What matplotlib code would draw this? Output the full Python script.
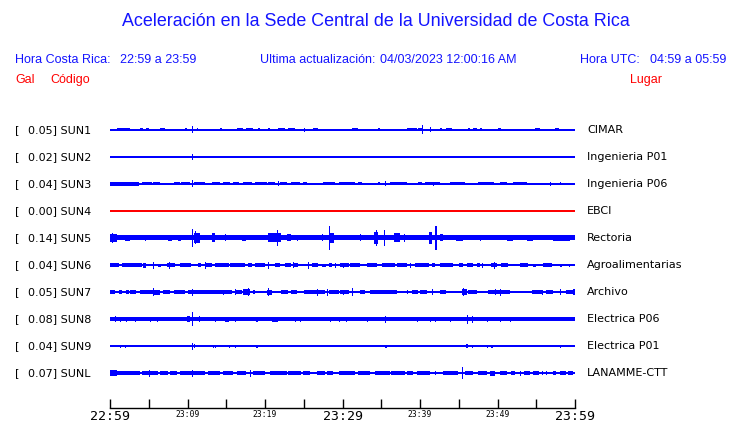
import matplotlib
matplotlib.use("Agg")
import matplotlib.pyplot as plt

# estaciones (de arriba hacia abajo)
codes = ["SUN1", "SUN2", "SUN3", "SUN4", "SUN5", "SUN6", "SUN7", "SUN8", "SUN9", "SUNL"]
peaks = [0.05, 0.02, 0.04, 0.00, 0.14, 0.04, 0.05, 0.08, 0.04, 0.07]
places = ["CIMAR", "Ingenieria P01", "Ingenieria P06", "EBCI", "Rectoria",
          "Agroalimentarias", "Archivo", "Electrica P06", "Electrica P01", "LANAMME-CTT"]
# grosor de la traza en reposo (px)
base_h = [1.8, 1.6, 1.8, 1.3, 5, 1.8, 1.8, 3.5, 1.6, 2]
trace_colors = ["blue", "blue", "blue", "red", "blue", "blue", "blue", "blue", "blue", "blue"]

# rafagas: (minuto inicio, minuto fin, altura total px), minuto 0 = 22:59
SUN1 = [(0.9, 2.6, 3), (3.9, 4.3, 3), (4.7, 5.0, 3), (5.3, 6.0, 2.5), (6.5, 7.1, 3), (7.7, 7.9, 2.5),
        (9.7, 9.9, 3), (10.6, 10.6, 7), (11.2, 11.4, 3), (11.8, 12.3, 2.5), (12.7, 12.7, 2.5),
        (13.1, 13.1, 2.5), (14.2, 14.4, 3), (15.8, 15.8, 2.5), (16.4, 17.2, 3), (17.6, 18.5, 3),
        (19.1, 19.3, 3), (19.8, 19.8, 2.5), (20.4, 20.6, 3), (21.7, 22.6, 3), (23.0, 23.9, 3),
        (24.3, 24.5, 2.5), (25.0, 25.0, 4.5), (26.2, 26.9, 3), (27.5, 27.5, 2.5), (28.4, 28.4, 2.5),
        (29.0, 29.0, 2.5), (29.7, 30.1, 2.5), (31.2, 32.0, 3), (32.9, 32.9, 2.5), (33.6, 34.0, 2.5),
        (34.6, 34.8, 3), (36.0, 36.0, 2.5), (37.4, 37.6, 2.5), (38.3, 39.6, 3), (39.8, 40.4, 3),
        (40.2, 40.2, 9), (41.3, 41.3, 5), (42.6, 42.8, 3), (43.4, 44.1, 3), (45.0, 45.2, 2.5),
        (46.2, 46.5, 3), (46.9, 47.3, 3), (47.7, 48.0, 3), (49.3, 49.3, 2.5), (50.1, 50.5, 3),
        (51.4, 51.4, 2.5), (52.0, 52.0, 2.5), (52.9, 52.9, 2.5), (54.2, 54.2, 2.5), (54.8, 55.5, 3),
        (55.9, 55.9, 2.5), (56.6, 56.6, 2.5), (57.4, 57.9, 3), (58.1, 58.1, 2.5)]
SUN2 = [(10.6, 10.6, 6), (15.3, 15.3, 2.5), (16.1, 16.1, 2.5)]
SUN3 = [(0.0, 3.7, 3.5), (4.1, 5.4, 3), (5.6, 6.5, 3), (7.5, 8.0, 2.5), (8.2, 9.0, 3), (9.2, 10.3, 3),
        (10.6, 10.6, 7), (10.8, 12.3, 3), (13.1, 14.2, 3), (14.6, 15.5, 3), (15.9, 16.6, 3),
        (17.2, 18.3, 3), (18.7, 20.2, 3), (20.4, 21.3, 3), (21.7, 21.7, 5), (21.9, 22.8, 3),
        (23.4, 24.5, 3), (24.9, 25.4, 3), (26.2, 26.9, 2.5), (27.5, 29.0, 3), (29.5, 30.3, 3),
        (30.3, 31.6, 3), (32.0, 32.5, 3), (33.3, 33.8, 2.5), (34.6, 34.8, 3), (35.5, 35.5, 5),
        (36.1, 38.3, 3), (39.8, 40.2, 3), (40.6, 42.6, 3), (41.7, 41.7, 4), (43.9, 45.8, 3),
        (46.2, 46.7, 2.5), (47.5, 49.5, 3), (50.3, 51.2, 3), (52.0, 53.8, 3), (54.6, 55.5, 2.5),
        (56.8, 56.8, 4), (58.1, 58.1, 3)]
SUN4 = []
SUN5 = [(0.0, 0.9, 8), (0.3, 0.3, 10), (1.9, 2.6, 6), (4.5, 4.6, 6), (7.5, 8.0, 6), (8.8, 9.2, 6),
        (10.6, 10.6, 18), (10.8, 11.6, 10), (11.0, 11.0, 13), (13.1, 13.5, 9), (14.8, 14.9, 7),
        (17.0, 17.5, 6), (20.4, 22.1, 9), (21.5, 21.5, 16), (22.8, 23.4, 7), (24.1, 24.2, 6),
        (27.3, 27.4, 7), (28.2, 28.2, 24), (28.4, 28.9, 10), (32.3, 32.4, 7), (34.0, 34.6, 12),
        (34.3, 34.3, 16), (35.3, 35.5, 16), (36.6, 37.4, 9), (37.9, 38.0, 8), (41.1, 41.5, 12),
        (41.9, 42.2, 24), (42.6, 43.0, 7), (44.7, 45.5, 6), (47.7, 47.8, 6), (51.2, 52.0, 6),
        (53.8, 54.6, 6), (57.2, 59.3, 6)]
SUN6 = [(0.0, 1.1, 4), (1.5, 4.1, 4), (4.3, 4.7, 5), (5.6, 5.6, 7), (6.2, 6.6, 3), (7.3, 8.4, 4),
        (7.6, 7.6, 7), (9.0, 10.5, 4), (11.4, 11.8, 4), (12.2, 12.2, 7), (12.3, 13.1, 4),
        (13.6, 15.3, 4), (15.5, 17.4, 4), (17.8, 18.3, 4), (18.7, 20.0, 4), (20.4, 20.4, 7),
        (21.3, 21.9, 4), (22.6, 23.4, 4), (23.6, 23.6, 6), (23.8, 24.3, 4), (25.5, 25.5, 7),
        (26.0, 26.9, 4), (27.3, 27.9, 3), (28.2, 28.6, 4), (29.0, 29.0, 5), (30.0, 30.0, 5),
        (29.7, 30.8, 4), (31.0, 32.3, 4), (33.1, 34.4, 3.5), (35.1, 36.8, 4), (37.0, 38.3, 4),
        (38.7, 38.7, 5), (39.4, 41.1, 4), (41.5, 41.9, 4), (42.6, 44.3, 4), (45.0, 45.6, 4),
        (46.0, 46.9, 4), (47.3, 47.7, 4), (48.0, 48.0, 5), (49.5, 49.5, 7), (49.2, 49.9, 4),
        (50.5, 51.4, 4), (52.9, 54.0, 4), (54.6, 55.0, 3), (55.9, 57.0, 4), (58.1, 58.3, 3),
        (59.2, 59.2, 3)]
SUN7 = [(0.0, 0.65, 4), (1.1, 1.5, 4), (2.0, 2.4, 4), (2.6, 3.4, 4), (3.9, 5.6, 4), (5.6, 5.6, 8),
        (5.7, 6.4, 5), (6.9, 7.7, 4), (8.2, 9.7, 4), (10.1, 12.3, 4), (10.6, 10.6, 7),
        (12.3, 15.7, 4), (14.6, 14.6, 5), (16.1, 16.1, 6), (16.3, 17.0, 4), (17.2, 18.1, 6),
        (17.8, 17.8, 8), (18.5, 18.7, 4), (20.2, 20.9, 5), (20.4, 20.4, 8), (22.1, 23.0, 4),
        (23.4, 24.1, 4), (25.0, 27.7, 4), (26.7, 26.7, 7), (28.0, 28.0, 7), (28.2, 29.5, 4),
        (30.1, 30.1, 5), (29.7, 30.8, 4), (31.2, 31.2, 8), (32.3, 32.9, 4), (33.5, 37.0, 4),
        (38.3, 38.3, 4), (39.0, 39.8, 4), (40.0, 40.9, 4), (41.5, 41.5, 6), (42.6, 43.4, 4),
        (45.4, 46.0, 6), (45.6, 45.6, 8), (46.2, 47.3, 4), (48.8, 51.6, 4), (49.7, 49.7, 6),
        (50.3, 50.3, 7), (54.4, 55.9, 4), (55.7, 55.7, 5), (56.3, 57.2, 4), (58.1, 58.1, 6),
        (58.9, 60.0, 4), (59.8, 59.8, 6)]
SUN8 = [(0.0, 60.0, 3.5), (0.6, 0.6, 6), (1.3, 1.3, 5), (2.1, 2.1, 5), (3.2, 3.2, 5), (5.2, 5.2, 5),
        (6.0, 6.0, 5), (9.9, 10.3, 6), (10.6, 10.6, 14), (11.5, 11.5, 6), (13.6, 13.6, 5),
        (14.8, 15.3, 5), (16.1, 16.1, 5), (18.9, 18.9, 5), (20.9, 21.7, 5), (23.9, 23.9, 5),
        (24.5, 24.5, 5), (28.4, 28.4, 5), (29.5, 29.5, 5), (30.5, 30.5, 5), (33.1, 33.1, 5),
        (35.5, 35.5, 7), (39.6, 39.6, 5), (41.3, 41.3, 5), (41.9, 41.9, 5), (43.9, 43.9, 5),
        (46.0, 46.2, 9), (46.7, 46.7, 7), (48.6, 48.6, 5), (50.3, 50.3, 5), (51.6, 51.6, 5),
        (55.5, 60.0, 4)]
SUN9 = [(1.3, 1.3, 3), (1.9, 1.9, 3), (5.2, 5.2, 2.5), (6.7, 6.7, 2.5), (10.6, 10.6, 7),
        (10.8, 11.0, 4), (13.3, 13.3, 3), (13.6, 13.6, 3), (15.3, 15.3, 3), (16.1, 16.1, 3),
        (18.9, 18.9, 3), (35.5, 35.7, 3), (43.8, 43.8, 2.5), (45.9, 46.2, 4), (46.7, 46.7, 3),
        (48.6, 48.6, 3), (49.1, 49.4, 3), (58.1, 58.1, 3)]
SUNL = [(0.0, 0.9, 5.5), (0.9, 3.9, 3.5), (4.1, 6.2, 3.5), (5.0, 5.0, 7), (6.5, 7.5, 3.5),
        (7.7, 8.6, 3.5), (9.0, 12.3, 3.5), (10.6, 10.6, 7), (12.7, 14.2, 3.5), (14.6, 15.9, 3.5),
        (16.4, 17.6, 3.5), (18.1, 18.1, 7), (18.5, 20.0, 3.5), (20.6, 22.8, 3.5), (23.0, 24.7, 3.5),
        (24.9, 25.8, 3.5), (26.7, 27.7, 3.5), (28.0, 28.8, 3.5), (29.5, 31.6, 3.5), (32.0, 33.5, 3.5),
        (34.2, 36.1, 3.5), (36.3, 38.1, 3.5), (38.3, 39.1, 3.5), (39.6, 41.3, 3.5), (41.9, 42.1, 3.5),
        (43.0, 44.9, 3.5), (45.4, 45.6, 12), (45.8, 46.9, 4), (47.5, 48.6, 3.5), (49.0, 49.7, 5),
        (50.3, 51.2, 3.5), (51.8, 52.3, 3.5), (52.9, 52.9, 5), (53.4, 54.2, 3.5), (54.6, 55.3, 3.5),
        (55.7, 55.8, 3.5), (56.3, 56.4, 3.5), (57.2, 57.6, 3.5), (58.1, 58.9, 3.5), (59.1, 59.8, 3.5)]
events = [SUN1, SUN2, SUN3, SUN4, SUN5, SUN6, SUN7, SUN8, SUN9, SUNL]

tick_minutes = list(range(0, 61, 5))
tick_labels = {0: "22:59", 10: "23:09", 20: "23:19", 30: "23:29", 40: "23:39", 50: "23:49", 60: "23:59"}
big_labels = ["22:59", "23:29", "23:59"]

W, H = 740, 423
fig = plt.figure(figsize=(W / 100, H / 100), dpi=100, facecolor="white")
hdr = "Liberation Sans"
lbl = "DejaVu Sans"
mono = "DejaVu Sans Mono"


def fx(px):
    return px / W


def fy(py):
    return 1 - py / H


blue_txt = "#1414ff"
fig.text(fx(376), fy(22), "Aceleración en la Sede Central de la Universidad de Costa Rica",
         ha="center", va="center", color=blue_txt, fontsize=12.9, family=hdr)
fig.text(fx(15), fy(60), "Hora Costa Rica:", va="center", color=blue_txt, fontsize=9, family=hdr)
fig.text(fx(120), fy(60), "22:59 a 23:59", va="center", color=blue_txt, fontsize=9, family=hdr)
fig.text(fx(260), fy(60), "Ultima actualización:", va="center", color=blue_txt, fontsize=9, family=hdr)
fig.text(fx(380), fy(60), "04/03/2023 12:00:16 AM", va="center", color=blue_txt, fontsize=9, family=hdr)
fig.text(fx(580), fy(60), "Hora UTC:", va="center", color=blue_txt, fontsize=9, family=hdr)
fig.text(fx(650), fy(60), "04:59 a 05:59", va="center", color=blue_txt, fontsize=9, family=hdr)
fig.text(fx(15), fy(80), "Gal", va="center", color="red", fontsize=9, family=hdr)
fig.text(fx(50), fy(80), "Código", va="center", color="red", fontsize=9, family=hdr)
fig.text(fx(630), fy(80), "Lugar", va="center", color="red", fontsize=9, family=hdr)

# panel de trazas, 27 px por fila
row_px = 27
ax = fig.add_axes([fx(110), fy(386.5), fx(465), 270 / H])
ax.set_xlim(0, 60)
ax.set_ylim(len(codes) - 0.5, -0.5)
ax.axis("off")

for i, code in enumerate(codes):
    col = trace_colors[i]
    ax.bar(0, base_h[i] / row_px, width=60, bottom=i - base_h[i] / 2 / row_px,
           align="edge", color=col, linewidth=0)
    for t0, t1, h in events[i]:
        w = max(t1 - t0, 0.14)
        ax.bar(t0, h / row_px, width=w, bottom=i - h / 2 / row_px,
               align="edge", color=col, linewidth=0)
    yy = fy(130 + row_px * i)
    fig.text(fx(15), yy, "[", va="center", fontsize=8, family=lbl)
    fig.text(fx(28), yy, f"{peaks[i]:.2f}] {code}", va="center", fontsize=8, family=lbl)
    fig.text(fx(587), yy, places[i], va="center", fontsize=8, family=lbl)

# eje de tiempo
axt = fig.add_axes([fx(110), fy(408), fx(465), 0.0001])
axt.set_xlim(0, 60)
axt.set_yticks([])
for s in ["top", "left", "right"]:
    axt.spines[s].set_visible(False)
axt.spines["bottom"].set_linewidth(1)
axt.set_xticks(tick_minutes)
axt.set_xticklabels([tick_labels.get(m, "") for m in tick_minutes])
axt.tick_params(axis="x", direction="in", length=6.5, width=1, pad=1.5)
for t in axt.get_xticklabels():
    t.set_family(mono)
    t.set_fontsize(9.5 if t.get_text() in big_labels else 5.8)

fig.savefig("out.png", dpi=100, facecolor="white")
